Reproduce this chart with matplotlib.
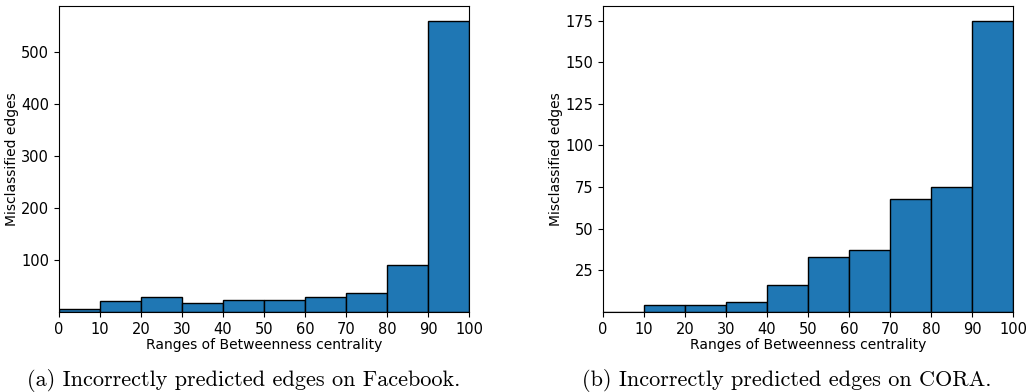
import matplotlib
matplotlib.use("Agg")
import matplotlib.pyplot as plt
import numpy as np

bin_edges = [0, 10, 20, 30, 40, 50, 60, 70, 80, 90, 100]
tick_labels = ["0", "10", "20", "30", "40", "50", "60", "70", "80", "90", "100"]
facebook_counts = [5, 21, 29, 17, 24, 23, 29, 37, 91, 560]
cora_counts = [0, 4, 4, 6, 16, 33, 37, 68, 75, 175]
xlabel = "Ranges of Betweenness centrality"
ylabel = "Misclassified edges"
captions = ["(a) Incorrectly predicted edges on Facebook.",
            "(b) Incorrectly predicted edges on CORA."]

fig = plt.figure(figsize=(10.26, 3.92), dpi=100)
W, H = 1026, 392
axes_px = [(59, 6, 410, 306), (603, 6, 410, 306)]
data = [facebook_counts, cora_counts]
yticks = [[100, 200, 300, 400, 500], [25, 50, 75, 100, 125, 150, 175]]
caption_x = [244, 787]

edges = np.array(bin_edges, dtype=float)
centers = (edges[:-1] + edges[1:]) / 2

for i, (l, t, w, h) in enumerate(axes_px):
    ax = fig.add_axes([l / W, (H - t - h) / H, w / W, h / H])
    ax.hist(centers, bins=edges, weights=data[i], color="#1f77b4",
            edgecolor="black", linewidth=1.0)
    ax.set_xlim(0, 100)
    ax.set_ylim(0, max(data[i]) * 1.05)
    ax.set_xticks(bin_edges)
    ax.set_xticklabels(tick_labels)
    ax.set_yticks(yticks[i])
    ax.tick_params(labelsize=10.5)
    ax.set_xlabel(xlabel, fontsize=10, labelpad=1)
    ax.set_ylabel(ylabel, fontsize=10, labelpad=1.5)
    fig.text(caption_x[i] / W, 1 - 381 / H, captions[i], ha="center", va="center",
             fontsize=16, family="cmr10")

fig.savefig("out.png", dpi=100)
